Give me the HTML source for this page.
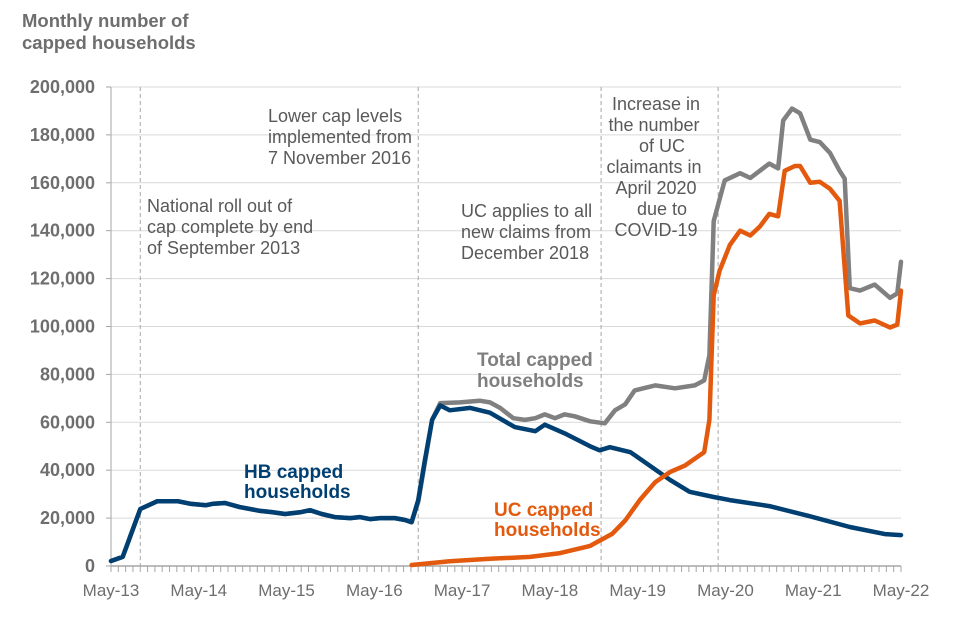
<!DOCTYPE html>
<html><head><meta charset="utf-8"><style>
body{margin:0;background:#fff;}
svg{display:block;font-family:"Liberation Sans",Arial,sans-serif;}
</style></head><body>
<svg id="chart" width="960" height="640" viewBox="0 0 960 640">
<text x="22" y="27" font-size="18.5" font-weight="bold" fill="#6e6e6e"><tspan x="22">Monthly number of</tspan><tspan x="22" dy="22">capped households</tspan></text>
<g id="grid"></g>
<g id="yaxis"></g>
<g id="xaxis"></g>
<g id="events"></g>
<g id="series"></g>
<g font-size="18" fill="#595959">
<text><tspan x="147" y="212">National  roll out of</tspan><tspan x="147" y="233">cap complete by end</tspan><tspan x="147" y="254">of September 2013</tspan></text>
<text><tspan x="268" y="122">Lower cap levels</tspan><tspan x="268" y="143">implemented from</tspan><tspan x="268" y="164">7 November 2016</tspan></text>
<text><tspan x="461" y="217">UC applies to all</tspan><tspan x="461" y="238">new claims from</tspan><tspan x="461" y="259">December 2018</tspan></text>
<text text-anchor="middle"><tspan x="656" y="110">Increase in</tspan><tspan x="654" y="131">the number</tspan><tspan x="662" y="152">of UC</tspan><tspan x="654" y="173">claimants in</tspan><tspan x="656" y="194">April 2020</tspan><tspan x="662" y="215">due to</tspan><tspan x="656" y="236">COVID-19</tspan></text>
</g>
<text font-size="19" font-weight="bold" fill="#7f7f7f"><tspan x="477" y="366">Total capped</tspan><tspan x="477" y="387">households</tspan></text>
<text font-size="19" font-weight="bold" fill="#003f72"><tspan x="244" y="478">HB capped</tspan><tspan x="244" y="498">households</tspan></text>
<text font-size="19" font-weight="bold" fill="#e35a0e"><tspan x="494" y="516">UC capped</tspan><tspan x="494" y="536">households</tspan></text>
</svg>
<script>
const yTicks=[0,20000,40000,60000,80000,100000,120000,140000,160000,180000,200000];
const xTickLabels=["May-13","May-14","May-15","May-16","May-17","May-18","May-19","May-20","May-21","May-22"];
const eventMonths=[4,42,67,83];
// months since May 2013, values in thousands
const hbMonths=[0,1.6,4,6.3,9.2,10.8,13,14,15.6,17.6,20.4,22,23.8,26,27.2,28.8,30.6,32.7,34,35.4,36.8,38.8,40.2,41.1,42,42.9,43.9,45,46.3,49.1,51.8,55.2,58,59.3,62,65.5,66.8,68.2,71,73,76.4,79.1,82.4,84.6,90,95.5,101,105.8,108];
const hbValues=[2.1,3.8,23.8,27,27,26,25.4,26,26.3,24.6,23,22.5,21.7,22.5,23.3,21.7,20.4,20,20.4,19.6,20,20,19.2,18.3,27.5,44,61,67,65,66,64,58,56.3,59,55.4,50,48.3,49.6,47.5,43.3,36,31,28.8,27.5,25,20.8,16.3,13.3,12.9];
const totalMonths=[0,1.6,4,6.3,9.2,10.8,13,14,15.6,17.6,20.4,22,23.8,26,27.2,28.8,30.6,32.7,34,35.4,36.8,38.8,40.2,41.1,42,43.9,45,47.7,50.4,51.8,53.2,55,56.6,58,59.3,60.7,62,63.4,65.5,67.5,68.9,70.3,71.6,74.4,77.1,79.8,81.1,81.8,82.4,83.9,86,87.4,88.7,90,91.2,91.9,93.1,94.2,95.6,96.9,98.3,99.6,100.3,101,102.4,104.4,106.5,107.5,108];
const totalValues=[2.1,3.8,23.8,27,27,26,25.4,26,26.3,24.6,23,22.5,21.7,22.5,23.3,21.7,20.4,20,20.4,19.6,20,20,19.2,18.3,26.7,61,68,68.3,69,68.3,66,61.7,61,61.7,63.3,61.7,63.3,62.5,60.4,59.6,65,67.5,73.3,75.4,74.2,75.4,77.5,88,144,161,164,162,165,168,166,186,191,189,178,177,172.5,165,161.7,116,115,117.5,112,113.8,127];
const ucMonths=[41.1,46.3,51.8,57.3,61.4,65.5,68.5,70.3,72.3,74.4,76.4,78.5,81.1,81.8,82.4,83.2,84.6,86,87.4,88.7,90,91.2,92.1,93.5,94.2,95.6,96.9,98.3,99.6,100.8,102.4,104.4,106.5,107.5,108];
const ucValues=[0.4,2,3,3.8,5.4,8.4,13.4,19,27.6,35,39.2,42,47.5,61,113,123.3,134,140,138,141.7,147,146,165,167,167,160,160.4,157.5,152.5,104.6,101.3,102.5,99.6,100.8,115];

const X0=111,X1=901,Y0=566,Y1=87,NM=108,YMAX=200000;
const xs=m=>X0+(X1-X0)*m/NM;
const ys=v=>Y0-(Y0-Y1)*v/YMAX;
const NS="http://www.w3.org/2000/svg";
function mk(parent,tag,attrs){const e=document.createElementNS(NS,tag);for(const k in attrs)e.setAttribute(k,attrs[k]);document.getElementById(parent).appendChild(e);return e;}

yTicks.forEach(t=>{
  if(t>0){const g=mk('grid','line',{x1:X0,x2:X1,y1:ys(t),y2:ys(t),stroke:'#d9d9d9','stroke-width':1});
  
  }
  const tk=mk('yaxis','line',{x1:X0-5,x2:X0,y1:ys(t),y2:ys(t),stroke:'#a6a6a6'});
  
  
  const l=mk('yaxis','text',{x:X0-16,y:ys(t)+6,'text-anchor':'end','font-size':'18','font-weight':'bold',fill:'#6e6e6e'});
  l.textContent=t.toLocaleString('en-US');
  
  
});
const ya=mk('yaxis','line',{x1:X0,x2:X0,y1:Y1,y2:Y0,stroke:'#a6a6a6'});


const xa=mk('xaxis','line',{x1:X0,x2:X1,y1:Y0,y2:Y0,stroke:'#a6a6a6','stroke-width':1.5});


for(let m=0;m<=NM;m++){
  const t=mk('xaxis','line',{x1:xs(m),x2:xs(m),y1:Y0,y2:Y0+6,stroke:'#a6a6a6'});
  
  
}
xTickLabels.forEach((s,i)=>{
  const l=mk('xaxis','text',{x:xs(i*12),y:596,'text-anchor':'middle','font-size':'17',fill:'#6e6e6e'});
  l.textContent=s;
  
  
});
eventMonths.forEach(m=>{
  const l=mk('events','line',{x1:xs(m),x2:xs(m),y1:Y1,y2:Y0,stroke:'#a6a6a6','stroke-dasharray':'4,3'});
  
  
});
function series(ms,vs,color,name){
  const d=ms.map((m,i)=>(i?'L':'M')+xs(m).toFixed(1)+','+ys(vs[i]*1000).toFixed(1)).join(' ');
  const p=mk('series','path',{d:d,fill:'none',stroke:color,'stroke-width':4.5,'stroke-linejoin':'round','stroke-linecap':'round'});
  
  
}
series(totalMonths,totalValues,'#808080','total-line');
series(hbMonths,hbValues,'#003f72','hb-line');
series(ucMonths,ucValues,'#e35a0e','uc-line');
</script>
</body></html>
